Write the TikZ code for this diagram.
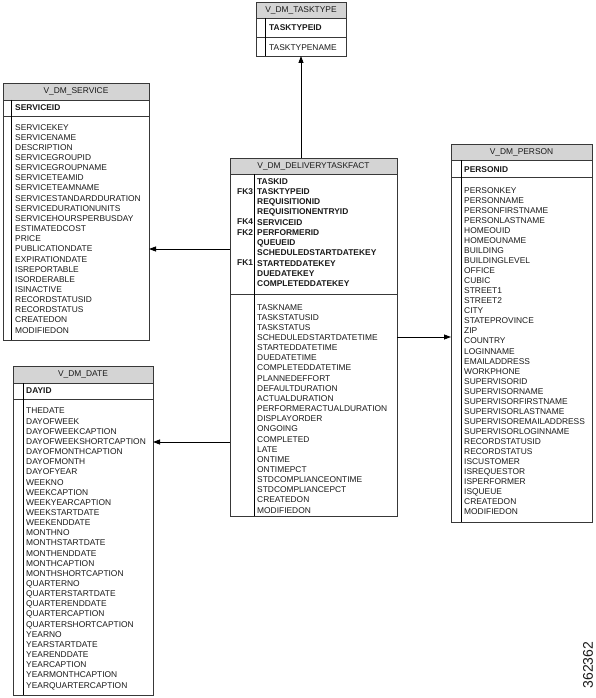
\documentclass[tikz,border=0pt]{standalone}
\usepackage{fontspec}
\setmainfont{Liberation Sans}
\usetikzlibrary{arrows.meta,positioning}
\definecolor{hdrgray}{HTML}{D4D4D4}
\definecolor{tblline}{HTML}{383838}
\definecolor{tbltext}{HTML}{1A1A1A}
\tikzset{
  tbl/.style={draw=tblline,line width=0.9pt,inner sep=0pt,outer sep=0pt,fill=white},
  hdr/.style={tbl,fill=hdrgray,font=\fontsize{8.4}{10}\selectfont,text=tbltext},
  rows/.style={anchor=north west,align=left,inner sep=0pt,text=tbltext,font=\fontsize{8.4}{#1}\selectfont},
  rows/.default=10.15,
  keyrows/.style={rows=#1,font=\fontsize{8.4}{#1}\selectfont\bfseries},
  keyrows/.default=10.15,
  sep/.style={draw=black,line width=0.9pt},
  fkarr/.style={-{Triangle[length=7pt,width=5pt]},line width=0.8pt,black},
}
\begin{document}
\begin{tikzpicture}[x=1pt,y=-1pt]
\useasboundingbox (0,0) rectangle (596,698);

% V_DM_TASKTYPE
\node[hdr,minimum width=90pt,minimum height=16pt,anchor=north west] (tt-head) at (256,2) {V\_DM\_TASKTYPE};
\node[tbl,minimum width=90pt,minimum height=19pt,below=0pt of tt-head] (tt-key) {};
\node[tbl,minimum width=90pt,minimum height=19pt,below=0pt of tt-key] (tt-body) {};
\draw[sep] ([xshift=9pt]tt-key.north west) -- ([xshift=9pt]tt-body.south west);
\node[keyrows] (tt-keytxt) at ([xshift=13pt,yshift=-6pt]tt-key.north west) {TASKTYPEID};
\node[rows] (tt-bodytxt) at ([xshift=13pt,yshift=-7pt]tt-body.north west) {TASKTYPENAME};

% V_DM_SERVICE
\node[hdr,minimum width=146pt,minimum height=17pt,anchor=north west] (svc-head) at (3,83) {V\_DM\_SERVICE};
\node[tbl,minimum width=146pt,minimum height=16pt,below=0pt of svc-head] (svc-key) {};
\node[tbl,minimum width=146pt,minimum height=224pt,below=0pt of svc-key] (svc-body) {};
\draw[sep] ([xshift=8pt]svc-key.north west) -- ([xshift=8pt]svc-body.south west);
\node[keyrows] (svc-keytxt) at ([xshift=12pt,yshift=-4pt]svc-key.north west) {SERVICEID};
\node[rows] (svc-bodytxt) at ([xshift=12pt,yshift=-8pt]svc-body.north west)
 {SERVICEKEY\\SERVICENAME\\DESCRIPTION\\SERVICEGROUPID\\SERVICEGROUPNAME\\SERVICETEAMID\\
  SERVICETEAMNAME\\SERVICESTANDARDDURATION\\SERVICEDURATIONUNITS\\SERVICEHOURSPERBUSDAY\\
  ESTIMATEDCOST\\PRICE\\PUBLICATIONDATE\\EXPIRATIONDATE\\ISREPORTABLE\\ISORDERABLE\\ISINACTIVE\\
  RECORDSTATUSID\\RECORDSTATUS\\CREATEDON\\MODIFIEDON};

% V_DM_DELIVERYTASKFACT
\node[hdr,minimum width=167pt,minimum height=16pt,anchor=north west] (fact-head) at (230,158) {V\_DM\_DELIVERYTASKFACT};
\node[tbl,minimum width=167pt,minimum height=120pt,below=0pt of fact-head] (fact-key) {};
\node[tbl,minimum width=167pt,minimum height=222pt,below=0pt of fact-key] (fact-body) {};
\draw[sep] ([xshift=24pt]fact-key.north west) -- ([xshift=24pt]fact-body.south west);
\node[keyrows=10.25] (fact-fk) at ([xshift=7pt,yshift=-4pt]fact-key.north west)
 {\vphantom{F}\\FK3\\ \vphantom{F}\\ \vphantom{F}\\FK4\\FK2\\ \vphantom{F}\\ \vphantom{F}\\FK1};
\node[keyrows=10.25] (fact-keytxt) at ([xshift=27pt,yshift=-4pt]fact-key.north west)
 {TASKID\\TASKTYPEID\\REQUISITIONID\\REQUISITIONENTRYID\\SERVICEID\\PERFORMERID\\QUEUEID\\
  SCHEDULEDSTARTDATEKEY\\STARTEDDATEKEY\\DUEDATEKEY\\COMPLETEDDATEKEY};
\node[rows] (fact-bodytxt) at ([xshift=27pt,yshift=-10pt]fact-body.north west)
 {TASKNAME\\TASKSTATUSID\\TASKSTATUS\\SCHEDULEDSTARTDATETIME\\STARTEDDATETIME\\DUEDATETIME\\
  COMPLETEDDATETIME\\PLANNEDEFFORT\\DEFAULTDURATION\\ACTUALDURATION\\PERFORMERACTUALDURATION\\
  DISPLAYORDER\\ONGOING\\COMPLETED\\LATE\\ONTIME\\ONTIMEPCT\\STDCOMPLIANCEONTIME\\
  STDCOMPLIANCEPCT\\CREATEDON\\MODIFIEDON};

% V_DM_PERSON
\node[hdr,minimum width=141pt,minimum height=16pt,anchor=north west] (per-head) at (451,144) {V\_DM\_PERSON};
\node[tbl,minimum width=141pt,minimum height=17pt,below=0pt of per-head] (per-key) {};
\node[tbl,minimum width=141pt,minimum height=345pt,below=0pt of per-key] (per-body) {};
\draw[sep] ([xshift=10pt]per-key.north west) -- ([xshift=10pt]per-body.south west);
\node[keyrows] (per-keytxt) at ([xshift=13pt,yshift=-6pt]per-key.north west) {PERSONID};
\node[rows=10.06] (per-bodytxt) at ([xshift=13pt,yshift=-10pt]per-body.north west)
 {PERSONKEY\\PERSONNAME\\PERSONFIRSTNAME\\PERSONLASTNAME\\HOMEOUID\\HOMEOUNAME\\BUILDING\\
  BUILDINGLEVEL\\OFFICE\\CUBIC\\STREET1\\STREET2\\CITY\\STATEPROVINCE\\ZIP\\COUNTRY\\LOGINNAME\\
  EMAILADDRESS\\WORKPHONE\\SUPERVISORID\\SUPERVISORNAME\\SUPERVISORFIRSTNAME\\
  SUPERVISORLASTNAME\\SUPERVISOREMAILADDRESS\\SUPERVISORLOGINNAME\\RECORDSTATUSID\\
  RECORDSTATUS\\ISCUSTOMER\\ISREQUESTOR\\ISPERFORMER\\ISQUEUE\\CREATEDON\\MODIFIEDON};

% V_DM_DATE
\node[hdr,minimum width=140pt,minimum height=17pt,anchor=north west] (date-head) at (13,366) {V\_DM\_DATE};
\node[tbl,minimum width=140pt,minimum height=16pt,below=0pt of date-head] (date-key) {};
\node[tbl,minimum width=140pt,minimum height=296pt,below=0pt of date-key] (date-body) {};
\draw[sep] ([xshift=10pt]date-key.north west) -- ([xshift=10pt]date-body.south west);
\node[keyrows] (date-keytxt) at ([xshift=13pt,yshift=-5pt]date-key.north west) {DAYID};
\node[rows] (date-bodytxt) at ([xshift=13pt,yshift=-9pt]date-body.north west)
 {THEDATE\\DAYOFWEEK\\DAYOFWEEKCAPTION\\DAYOFWEEKSHORTCAPTION\\DAYOFMONTHCAPTION\\DAYOFMONTH\\
  DAYOFYEAR\\WEEKNO\\WEEKCAPTION\\WEEKYEARCAPTION\\WEEKSTARTDATE\\WEEKENDDATE\\MONTHNO\\
  MONTHSTARTDATE\\MONTHENDDATE\\MONTHCAPTION\\MONTHSHORTCAPTION\\QUARTERNO\\QUARTERSTARTDATE\\
  QUARTERENDDATE\\QUARTERCAPTION\\QUARTERSHORTCAPTION\\YEARNO\\YEARSTARTDATE\\YEARENDDATE\\
  YEARCAPTION\\YEARMONTHCAPTION\\YEARQUARTERCAPTION};

% references
\draw[fkarr] (fact-head.north -| tt-body.south) -- (tt-body.south);
\draw[fkarr] ([yshift=-15pt]fact-key.west) -- ([yshift=-15pt]fact-key.west -| svc-body.east);
\draw[fkarr] ([yshift=68pt]fact-body.east) -- ([yshift=68pt]fact-body.east -| per-body.west);
\draw[fkarr] ([yshift=-37pt]fact-body.west) -- ([yshift=-37pt]fact-body.west -| date-body.east);

\node[rotate=90,inner sep=0pt,font=\fontsize{14}{14}\selectfont,text=tbltext] (figno) at (588,665) {362362};
\end{tikzpicture}
\end{document}
